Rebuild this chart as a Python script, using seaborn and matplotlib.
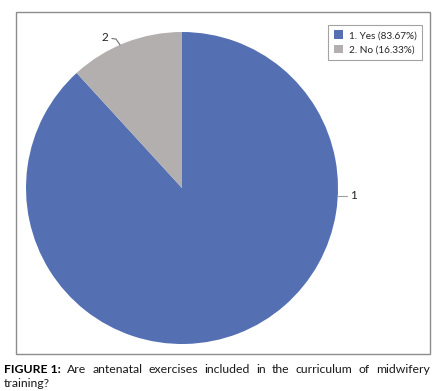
import matplotlib
matplotlib.use("Agg")
import matplotlib.pyplot as plt
import seaborn as sns
from matplotlib.patches import Rectangle

# Data
labels = ["1", "2"]
legend_labels = ["1. Yes (83.67%)", "2. No (16.33%)"]
# slice sizes as drawn in the picture (the gray wedge spans about 42 degrees)
values = [88.2, 11.8]
colors = ["#5470B3", "#B3AFAF"]

caption_bold = "FIGURE 1:"
caption_line1 = "Are antenatal exercises included in the curriculum of midwifery"
caption_line2 = "training?"

sns.set_theme(style="white")
plt.rcParams["font.family"] = ["Lato", "DejaVu Sans"]

W, H = 443, 391
fig = plt.figure(figsize=(W / 100, H / 100), dpi=100)

# outer chart frame
fig.patches.append(Rectangle((16 / W, 1 - 354 / H), 414 / W, 342 / H,
                             transform=fig.transFigure, fill=False,
                             edgecolor="#8C8C8C", linewidth=1.0))

# pie axes, centred at (182, 188) px with radius 156 px
cx, cy, r = 182, 188, 156
ax = fig.add_axes([(cx - r) / W, (H - cy - r) / H, 2 * r / W, 2 * r / H])
wedges, _ = ax.pie(values, colors=colors, startangle=90, counterclock=False,
                   radius=1.0, wedgeprops=dict(linewidth=0))
ax.set_xlim(-1, 1)
ax.set_ylim(-1, 1)
ax.set_aspect("equal")
ax.axis("off")

# data labels with leader lines
ax.plot([0.994, 1.058], [-0.051, -0.051], color="#A0A0A0", lw=0.8, clip_on=False)
ax.text(1.08, -0.051, labels[0], fontsize=8.5, va="center", ha="left", color="#222222")
ax.plot([-0.397, -0.423, -0.449], [0.917, 0.955, 0.958], color="#707070", lw=0.8,
        clip_on=False)
ax.text(-0.475, 0.962, labels[1], fontsize=8.5, va="center", ha="right", color="#222222")

# legend
leg = fig.legend(wedges, legend_labels, loc="upper right",
                 bbox_to_anchor=(427 / W, 1 - 20 / H), fontsize=7.2,
                 frameon=True, fancybox=False, edgecolor="#8C8C8C",
                 handlelength=0.9, handleheight=0.9, handletextpad=0.6,
                 borderpad=0.55, labelspacing=0.45)
leg.get_frame().set_linewidth(0.8)

# caption, first line justified word by word
fig.canvas.draw()
renderer = fig.canvas.get_renderer()
words = [caption_bold] + caption_line1.split()
x_left, x_right = 4, 430
y1 = 1 - 373 / H
texts = []
for i, w in enumerate(words):
    t = fig.text(0, y1, w, fontsize=8.8, va="baseline", ha="left",
                 fontweight="bold" if i == 0 else "normal",
                 color="#000000" if i == 0 else "#1A1A1A")
    texts.append(t)
widths = [t.get_window_extent(renderer).width for t in texts]
gap = (x_right - x_left - sum(widths)) / (len(words) - 1)
x = x_left
for t, w in zip(texts, widths):
    t.set_x(x / W)
    x += w + gap
fig.text(x_left / W, 1 - 387 / H, caption_line2, fontsize=8.8, va="baseline",
         ha="left", color="#1A1A1A")

fig.savefig("out.png", dpi=100)
